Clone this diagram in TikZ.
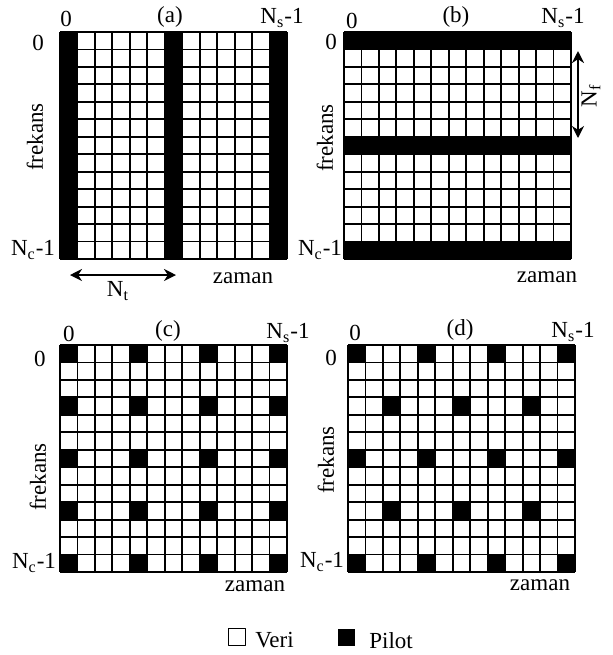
\documentclass[tikz,border=0pt]{standalone}
\usepackage{fontspec}
\setmainfont{Liberation Serif}
\usetikzlibrary{arrows.meta}
\begin{document}
\begin{tikzpicture}[x=0.5pt,y=-0.5pt,>={Stealth[length=6pt,width=6pt]},
	font=\fontsize{11.5}{13}\selectfont, line join=round,
	gridline/.style={line width=0.9pt},
	lbl/.style={inner sep=0pt},
	olcu/.style={<->,line width=1pt}]
		\def\c{17.46} % hücre boyu
		\useasboundingbox (0,0) rectangle (613,655);
		% (a) blok tipi
		\begin{scope}[shift={(60,32)}]
			\foreach \k in {0,...,13} {
				\draw[gridline] (\k*\c,0)--(\k*\c,13*\c);
				\draw[gridline] (0,\k*\c)--(13*\c,\k*\c);}
			\foreach \k in {0,6,12} \fill (\k*\c,0) rectangle +(\c,13*\c);
		\end{scope}
		\node[lbl] (a0) at (66,19) {0};
		\node[lbl] (abas) at (170,17) {(a)};
		\node[lbl] (ans) at (282,18) {N\textsubscript{s}-1};
		\node[lbl] (af0) at (38,43) {0};
		\node[lbl] (anc) at (33,250) {N\textsubscript{c}-1};
		\node[lbl,rotate=90] (afrek) at (35,137) {frekans};
		\node[lbl] (azaman) at (243,278) {zaman};
		\coordinate (ntsol) at (70,275);
		\coordinate (ntsag) at (176,275);
		\draw[olcu] (ntsol)--(ntsag);
		\node[lbl] (nt) at (118,291) {N\textsubscript{t}};
		% (b) tarak tipi
		\begin{scope}[shift={(344,32)}]
			\foreach \k in {0,...,13} {
				\draw[gridline] (\k*\c,0)--(\k*\c,13*\c);
				\draw[gridline] (0,\k*\c)--(13*\c,\k*\c);}
			\foreach \k in {0,6,12} \fill (0,\k*\c) rectangle +(13*\c,\c);
		\end{scope}
		\node[lbl] (b0) at (352,21) {0};
		\node[lbl] (bbas) at (456,17) {(b)};
		\node[lbl] (bns) at (563,18) {N\textsubscript{s}-1};
		\node[lbl] (bf0) at (331,42) {0};
		\node[lbl] (bnc) at (320,250) {N\textsubscript{c}-1};
		\node[lbl,rotate=90] (bfrek) at (325,138) {frekans};
		\node[lbl] (bzaman) at (547,277) {zaman};
		\coordinate (nfust) at (578,51);
		\coordinate (nfalt) at (578,138);
		\draw[olcu] (nfust)--(nfalt);
		\node[lbl,rotate=90] (nf) at (591,96) {N\textsubscript{f}};
		% (c) dikdörtgen dağılım
		\begin{scope}[shift={(60,345)}]
			\foreach \k in {0,...,13} {
				\draw[gridline] (\k*\c,0)--(\k*\c,13*\c);
				\draw[gridline] (0,\k*\c)--(13*\c,\k*\c);}
			\foreach \i in {0,4,8,12} \foreach \j in {0,3,6,9,12}
				\fill (\i*\c,\j*\c) rectangle +(\c,\c);
		\end{scope}
		\node[lbl] (c0) at (69,334) {0};
		\node[lbl] (cbas) at (168,331) {(c)};
		\node[lbl] (cns) at (288,333) {N\textsubscript{s}-1};
		\node[lbl] (cf0) at (40,359) {0};
		\node[lbl] (cnc) at (34,563) {N\textsubscript{c}-1};
		\node[lbl,rotate=90] (cfrek) at (38,477) {frekans};
		\node[lbl] (czaman) at (255,586) {zaman};
		% (d) elmas dağılım
		\begin{scope}[shift={(348,345)}]
			\foreach \k in {0,...,13} {
				\draw[gridline] (\k*\c,0)--(\k*\c,13*\c);
				\draw[gridline] (0,\k*\c)--(13*\c,\k*\c);}
			\foreach \i in {0,4,8,12} \foreach \j in {0,6,12}
				\fill (\i*\c,\j*\c) rectangle +(\c,\c);
			\foreach \i in {2,6,10} \foreach \j in {3,9}
				\fill (\i*\c,\j*\c) rectangle +(\c,\c);
		\end{scope}
		\node[lbl] (d0) at (355,333) {0};
		\node[lbl] (dbas) at (460,330) {(d)};
		\node[lbl] (dns) at (573,332) {N\textsubscript{s}-1};
		\node[lbl] (df0) at (331,358) {0};
		\node[lbl] (dnc) at (322,562) {N\textsubscript{c}-1};
		\node[lbl,rotate=90] (dfrek) at (326,460) {frekans};
		\node[lbl] (dzaman) at (540,585) {zaman};
		% gösterim
		\node[draw,line width=0.8pt,minimum size=8.5pt,inner sep=0pt] (veri) at (237,637) {};
		\node[lbl,anchor=west] (veriyazi) at (255,640) {Veri};
		\node[fill,minimum size=8.5pt,inner sep=0pt] (pilot) at (346,637) {};
		\node[lbl,anchor=west] (pilotyazi) at (369,641) {Pilot};
\end{tikzpicture}
\end{document}
